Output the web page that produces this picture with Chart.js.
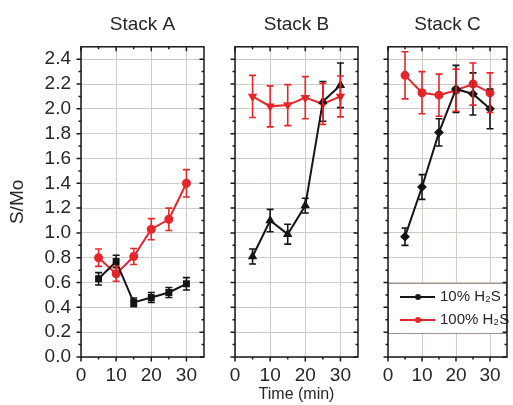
<!DOCTYPE html>
<html>
<head>
<meta charset="utf-8">
<script src="https://cdn.jsdelivr.net/npm/chart.js@4"></script>
<style>
  body { margin: 0; background: #fff; }
  #wrap { position: relative; width: 513px; height: 405px; }
  canvas { position: absolute; top: 0; }
</style>
</head>
<body>
<div id="wrap">
  <canvas id="cA" width="210" height="405" style="left:0"></canvas>
  <canvas id="cB" width="155" height="405" style="left:210px"></canvas>
  <canvas id="cC" width="148" height="405" style="left:365px"></canvas>
</div>
<script>
// данные
const times = [5, 10, 15, 20, 25, 30];
const xTicks = [0, 10, 20, 30];
const xMinor = [5, 15, 25];
const yTicks = [0.0, 0.2, 0.4, 0.6, 0.8, 1.0, 1.2, 1.4, 1.6, 1.8, 2.0, 2.2, 2.4];
const yMinor = [0.1, 0.3, 0.5, 0.7, 0.9, 1.1, 1.3, 1.5, 1.7, 1.9, 2.1, 2.3];
const seriesNames = ['10% H₂S', '100% H₂S'];
const panelTitles = ['Stack A', 'Stack B', 'Stack C'];

const stackA10 = [0.63, 0.77, 0.44, 0.48, 0.52, 0.59];
const stackA10Err = [0.05, 0.05, 0.035, 0.04, 0.04, 0.05];
const stackA100 = [0.80, 0.67, 0.81, 1.03, 1.11, 1.40];
const stackA100Err = [0.07, 0.06, 0.065, 0.085, 0.09, 0.11];

const stackB10 = [0.81, 1.10, 0.99, 1.22, 2.06, 2.19];
const stackB10Err = [0.06, 0.09, 0.08, 0.06, 0.16, 0.18];
const stackB100 = [2.10, 2.02, 2.03, 2.09, 2.04, 2.10];
const stackB100Err = [0.17, 0.165, 0.165, 0.17, 0.165, 0.165];

const stackC10 = [0.97, 1.37, 1.81, 2.16, 2.12, 2.00];
const stackC10Err = [0.07, 0.10, 0.11, 0.19, 0.17, 0.16];
const stackC100 = [2.27, 2.13, 2.11, 2.15, 2.20, 2.13];
const stackC100Err = [0.19, 0.17, 0.17, 0.17, 0.17, 0.16];

const BLACK = '#151515';
const RED = '#e5262b';
const GRID = '#d3cac6';
const TEXT = '#262626';

// усы погрешностей
const errorBars = {
  id: 'errorBars',
  afterDatasetsDraw(chart) {
    const { ctx, scales: { x, y } } = chart;
    chart.data.datasets.forEach(ds => {
      ctx.save();
      ctx.strokeStyle = ds.borderColor;
      ctx.lineWidth = 1.6;
      ds.data.forEach((p, j) => {
        const px = x.getPixelForValue(p.x);
        const top = y.getPixelForValue(p.y + ds.err[j]);
        const bot = y.getPixelForValue(p.y - ds.err[j]);
        ctx.beginPath();
        ctx.moveTo(px, top); ctx.lineTo(px, bot);
        ctx.moveTo(px - 3.5, top); ctx.lineTo(px + 3.5, top);
        ctx.moveTo(px - 3.5, bot); ctx.lineTo(px + 3.5, bot);
        ctx.stroke();
      });
      ctx.restore();
    });
  }
};

// легенда в рамке внизу последней панели
const boxLegend = {
  id: 'boxLegend',
  afterDatasetsDraw(chart, args, opts) {
    if (!opts.show) return;
    const { ctx, chartArea: a } = chart;
    const top = a.bottom - 74, h = 50;
    ctx.save();
    ctx.fillStyle = '#fff';
    ctx.fillRect(a.left, top, a.right - a.left, h);
    ctx.strokeStyle = '#9c918d';
    ctx.lineWidth = 1;
    ctx.strokeRect(a.left + 0.5, top + 0.5, a.right - a.left - 1, h);
    chart.data.datasets.forEach((ds, i) => {
      const y = top + 14 + i * 23;
      ctx.strokeStyle = ds.borderColor;
      ctx.lineWidth = 2;
      ctx.beginPath();
      ctx.moveTo(a.left + 12, y); ctx.lineTo(a.left + 47, y);
      ctx.stroke();
      ctx.fillStyle = ds.borderColor;
      ctx.beginPath();
      ctx.arc(a.left + 30, y, 3, 0, Math.PI * 2);
      ctx.fill();
      ctx.fillStyle = TEXT;
      ctx.font = '15px Arial';
      ctx.textBaseline = 'middle';
      ctx.fillText(ds.label, a.left + 52, y);
    });
    ctx.restore();
  }
};

// рамка и засечки со всех сторон
const frame = {
  id: 'frame',
  afterDatasetsDraw(chart) {
    const { ctx, chartArea: a, scales: { x, y } } = chart;
    ctx.save();
    ctx.strokeStyle = '#1a1a1a';
    ctx.lineWidth = 1.5;
    ctx.strokeRect(a.left, a.top, a.right - a.left, a.bottom - a.top);
    ctx.beginPath();
    const tickX = (vals, len) => vals.forEach(v => {
      const px = x.getPixelForValue(v);
      ctx.moveTo(px, a.bottom); ctx.lineTo(px, a.bottom + len);
      ctx.moveTo(px, a.top); ctx.lineTo(px, a.top + len);
    });
    const tickY = (vals, len) => vals.forEach(v => {
      const py = y.getPixelForValue(v);
      ctx.moveTo(a.left, py); ctx.lineTo(a.left - len, py);
      ctx.moveTo(a.right, py); ctx.lineTo(a.right - len, py);
    });
    tickX(xTicks, 4.5); tickX(xMinor, 2.5);
    tickY(yTicks, 4.5); tickY(yMinor, 2.5);
    ctx.stroke();
    ctx.restore();
  }
};

function makePanel(id, title, low, lowErr, high, highErr, cfg) {
  const font = { family: 'Arial', size: 19 };
  return new Chart(document.getElementById(id), {
    type: 'line',
    data: {
      datasets: [
        {
          label: seriesNames[0],
          data: times.map((t, i) => ({ x: t, y: low[i] })),
          err: lowErr,
          borderColor: BLACK, backgroundColor: BLACK,
          borderWidth: 2, pointRadius: 3.5, pointStyle: cfg.lowMarker
        },
        {
          label: seriesNames[1],
          data: times.map((t, i) => ({ x: t, y: high[i] })),
          err: highErr,
          borderColor: RED, backgroundColor: RED,
          borderWidth: 2, pointRadius: 3.5, pointStyle: cfg.highMarker,
          pointRotation: cfg.highRot || 0
        }
      ]
    },
    plugins: [errorBars, boxLegend, frame],
    options: {
      responsive: false,
      animation: false,
      layout: { padding: { left: 0, right: cfg.padRight, top: 0, bottom: 0 } },
      plugins: {
        legend: { display: false },
        tooltip: { enabled: false },
        boxLegend: { show: !!cfg.legend },
        title: {
          display: true, text: title, fullSize: false, color: TEXT,
          font: { family: 'Arial', size: 19, weight: 'normal' },
          padding: { top: 13, bottom: 11 }
        }
      },
      scales: {
        x: {
          type: 'linear', min: 0, max: 35,
          afterBuildTicks: s => { s.ticks = xTicks.map(v => ({ value: v })); },
          afterFit: s => { s.height = 48; },
          ticks: { font: font, color: TEXT, padding: 7, maxRotation: 0 },
          grid: { color: GRID, drawTicks: false },
          border: { display: false },
          title: {
            display: !!cfg.xTitle, text: 'Time (min)', color: TEXT,
            font: { family: 'Arial', size: 16 }, padding: { top: 0, bottom: 1 }
          }
        },
        y: {
          min: 0, max: 2.5,
          afterBuildTicks: s => { s.ticks = yTicks.map(v => ({ value: v })); },
          afterFit: s => { s.width = cfg.yWidth; },
          ticks: {
            display: !!cfg.showY, font: font, color: TEXT, padding: 10,
            callback: v => Number(v).toFixed(1)
          },
          grid: { color: GRID, drawTicks: false },
          border: { display: false },
          title: {
            display: !!cfg.showY, text: 'S/Mo', color: TEXT,
            font: { family: 'Arial', size: 19 }, padding: { top: 6, bottom: 0 }
          }
        }
      }
    }
  });
}

makePanel('cA', panelTitles[0], stackA10, stackA10Err, stackA100, stackA100Err,
  { showY: true, yWidth: 81, padRight: 6, lowMarker: 'rect', highMarker: 'circle' });
makePanel('cB', panelTitles[1], stackB10, stackB10Err, stackB100, stackB100Err,
  { yWidth: 25, padRight: 7, lowMarker: 'triangle', highMarker: 'triangle', highRot: 180, xTitle: true });
makePanel('cC', panelTitles[2], stackC10, stackC10Err, stackC100, stackC100Err,
  { yWidth: 23, padRight: 2, lowMarker: 'rectRot', highMarker: 'circle', legend: true });
</script>
</body>
</html>
